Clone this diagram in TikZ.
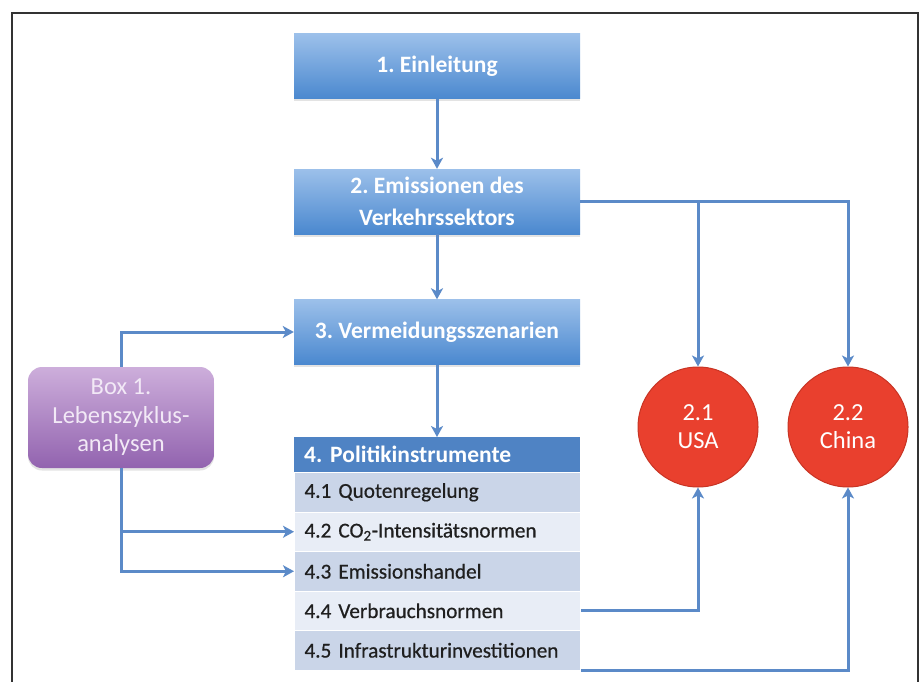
\documentclass[tikz,border=0pt]{standalone}
\usepackage{fontspec}
\setmainfont{Carlito}
\newfontfamily\rowfont{Carlito}[FakeBold=0.6]
\usetikzlibrary{arrows.meta,shadows}
\definecolor{bluetop}{HTML}{9CC0EA}
\definecolor{bluebot}{HTML}{4A88CF}
\definecolor{hdrblue}{HTML}{4F83C4}
\definecolor{rowdark}{HTML}{CAD5E8}
\definecolor{rowlight}{HTML}{E8EDF6}
\definecolor{purptop}{HTML}{CDAEDB}
\definecolor{purpbot}{HTML}{9263AF}
\definecolor{purptext}{HTML}{F2E9F6}
\definecolor{circred}{HTML}{E9402E}
\definecolor{circedge}{HTML}{C83424}
\definecolor{arrowc}{HTML}{5B8AC8}
\definecolor{framec}{HTML}{333333}
\frenchspacing
\begin{document}
\begin{tikzpicture}[x=1pt,y=-1pt,
  bluebox/.style={rectangle, minimum width=286pt, minimum height=65pt, inner sep=0pt,
    top color=bluetop, bottom color=bluebot, draw=none, text=white, align=center,
    font=\bfseries\fontsize{23.5}{32}\selectfont,
    drop shadow={opacity=0.22, shadow xshift=0pt, shadow yshift=-2.5pt}},
  hdrbox/.style={rectangle, anchor=north west, minimum height=35pt, text width=266pt,
    inner xsep=10pt, inner ysep=0pt, fill=hdrblue, text=white, align=left,
    font=\bfseries\fontsize{23.5}{28}\selectfont},
  rowbox/.style={rectangle, anchor=north west, minimum height=39.5pt, text width=266pt,
    inner xsep=10pt, inner ysep=0pt, draw=white, line width=1pt, text=black!88, align=left,
    font=\rowfont\fontsize{21.2}{24}\selectfont},
  purpbox/.style={rectangle, rounded corners=14pt, minimum width=186pt, minimum height=101pt,
    top color=purptop, bottom color=purpbot, text=purptext, align=center,
    font=\fontsize{24.5}{28.5}\selectfont,
    drop shadow={opacity=0.22, shadow xshift=0pt, shadow yshift=-2.5pt}},
  country/.style={circle, minimum size=120pt, inner sep=0pt, fill=circred, draw=circedge,
    line width=1pt, text=white, align=center, font=\fontsize{24.5}{28}\selectfont},
  arr/.style={draw=arrowc, line width=3pt, -{Stealth[length=11pt,width=12pt,inset=3pt]}},
]
\useasboundingbox (0,0) rectangle (923,682);
\fill[white] (0,0) rectangle (923,682);
\draw[framec, line width=1.8pt] (12,682) -- (12,13) -- (918,13) -- (918,682);

\node[bluebox] (b1) at (437,66.5) {1. Einleitung};
\node[bluebox] (b2) at (437,201.5) {2. Emissionen des\\Verkehrssektors};
\node[bluebox] (b3) at (437,332) {3. Vermeidungsszenarien};

\node[hdrbox] (hdr) at (294,437) {4. Politikinstrumente};
\node[rowbox, fill=rowdark]  (r41) at (294,472)   {4.1 Quotenregelung};
\node[rowbox, fill=rowlight] (r42) at (294,511.5) {4.2 CO\textsubscript{2}-Intensitätsnormen};
\node[rowbox, fill=rowdark]  (r43) at (294,551)   {4.3 Emissionshandel};
\node[rowbox, fill=rowlight] (r44) at (294,590.5) {4.4 Verbrauchsnormen};
\node[rowbox, fill=rowdark]  (r45) at (294,630)   {4.5 Infrastrukturinvestitionen};

\node[purpbox] (box) at (121,417.5) {Box 1.\\Lebenszyklus-\\analysen};

\node[country] (usa) at (698,427) {2.1\\USA};
\node[country] (china) at (848,427) {2.2\\China};

\draw[arr] (b1) -- (b2);
\draw[arr] (b2) -- (b3);
\draw[arr] (b3) -- (hdr.north -| b3.south);
\draw[arr] (box.north) |- (b3.west);
\draw[arr] (box.south) |- (r42.west);
\draw[arr] (box.south) |- (r43.west);

\coordinate (split) at (b2.east -| usa.north);
\draw[arr] (b2.east) -| (china.north);
\draw[arr] (split) -- (usa.north);
\draw[arr] (r44.east) -| (usa.south);
\draw[arr] (r45.south east) -| (china.south);
\end{tikzpicture}
\end{document}
